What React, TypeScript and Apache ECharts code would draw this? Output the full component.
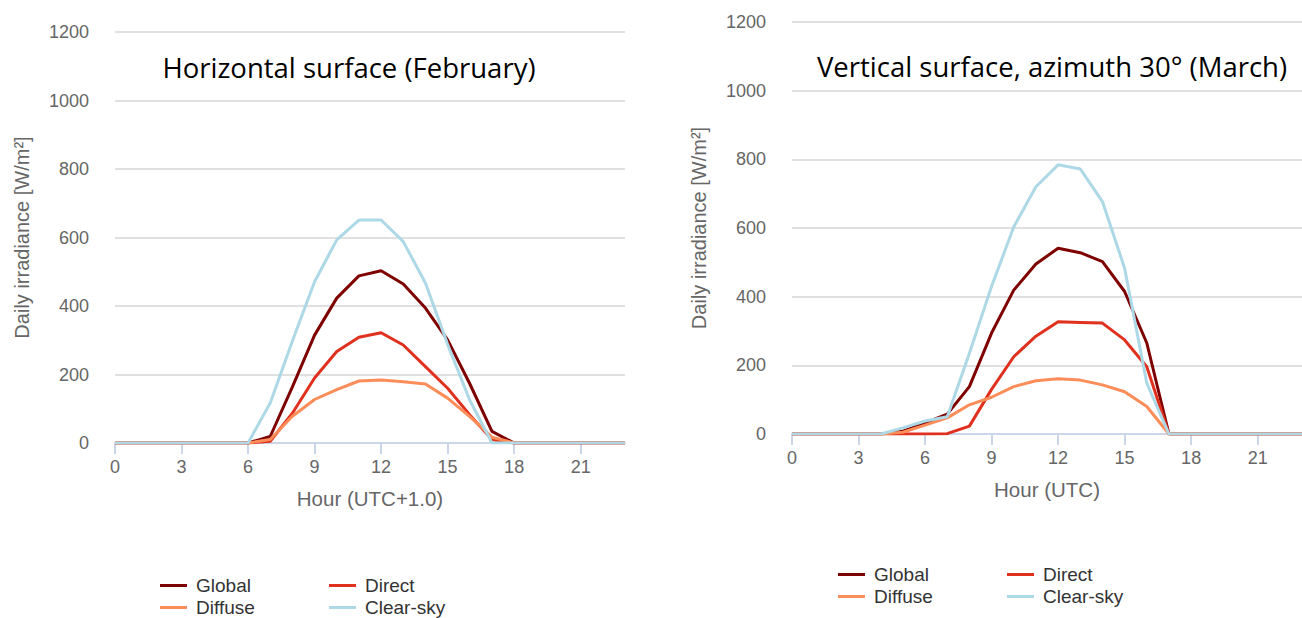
import React, { useEffect, useRef } from "react";
import * as echarts from "echarts";

const hours = ["0","1","2","3","4","5","6","7","8","9","10","11","12","13","14","15","16","17","18","19","20","21","22","23"];
const seriesNames = ["Global", "Direct", "Diffuse", "Clear-sky"];
const seriesColors = ["#7f0000", "#e0301e", "#fc8d59", "#add8e6"];

const leftTitle = "Horizontal surface (February)";
const rightTitle = "Vertical surface, azimuth 30° (March)";
const leftXName = "Hour (UTC+1.0)";
const rightXName = "Hour (UTC)";
const yName = "Daily irradiance [W/m²]";

// Horizontal surface (February)
const febGlobal = [0,0,0,0,0,0,0,19,164,315,423,488,503,464,394,301,173,34,0,0,0,0,0,0];
const febDirect = [0,0,0,0,0,0,0,5,87,190,267,309,322,286,223,160,82,10,0,0,0,0,0,0];
const febDiffuse = [0,0,0,0,0,0,0,10,78,127,156,181,184,179,172,131,77,17,0,0,0,0,0,0];
const febClearSky = [0,0,0,0,0,0,0,117,298,471,593,651,651,588,467,288,125,0,0,0,0,0,0,0];

// Vertical surface, azimuth 30° (March)
const marGlobal = [0,0,0,0,0,8,32,58,138,294,419,495,541,528,502,415,265,0,0,0,0,0,0,0];
const marDirect = [0,0,0,0,0,0,0,1,23,130,225,285,327,325,323,274,196,0,0,0,0,0,0,0];
const marDiffuse = [0,0,0,0,0,5,26,47,85,107,138,155,161,157,143,123,80,0,0,0,0,0,0,0];
const marClearSky = [0,0,0,0,0,18,38,50,235,430,603,720,784,772,677,483,148,0,0,0,0,0,0,0];

const leftData = [febGlobal, febDirect, febDiffuse, febClearSky];
const rightData = [marGlobal, marDirect, marDiffuse, marClearSky];

const AXIS_FONT = "'Liberation Sans', Arial, sans-serif";
const TITLE_FONT = "'Open Sans', Lato, sans-serif";

function makeXAxis(gridIndex: number, name: string) {
  return {
    gridIndex,
    type: "category",
    data: hours,
    boundaryGap: false,
    name,
    nameLocation: "middle",
    nameGap: 45,
    nameTextStyle: { fontSize: 20.5, color: "#666", fontFamily: AXIS_FONT },
    axisLine: { show: true, onZero: false, lineStyle: { color: "#ccd6eb", width: 2 } },
    axisTick: { show: true, interval: 2, length: 11, lineStyle: { color: "#ccd6eb", width: 2 } },
    axisLabel: { interval: 2, margin: 15, fontSize: 18, color: "#666", fontFamily: AXIS_FONT },
    splitLine: { show: false },
  };
}

function makeYAxis(gridIndex: number) {
  return {
    gridIndex,
    type: "value",
    min: 0,
    max: 1200,
    interval: 200,
    name: yName,
    nameLocation: "middle",
    nameGap: 83,
    nameRotate: 90,
    nameTextStyle: { fontSize: 20, color: "#666", fontFamily: AXIS_FONT },
    axisLine: { show: false },
    axisTick: { show: false },
    axisLabel: {
      margin: 26,
      fontSize: 18,
      color: "#666",
      fontFamily: AXIS_FONT,
      formatter: (v: number) => String(v),
    },
    splitLine: { show: true, lineStyle: { color: "#e0e0e0", width: 2 } },
  };
}

function makeLegend(names: string[], left: number, top: number) {
  return {
    data: names,
    orient: "vertical",
    left,
    top,
    padding: 0,
    itemGap: 3,
    icon: "rect",
    itemWidth: 27,
    itemHeight: 3,
    selectedMode: false,
    textStyle: { fontSize: 19, color: "#333", fontFamily: AXIS_FONT, padding: [0, 0, 0, 4] },
  };
}

export default function App() {
  const ref = useRef<HTMLDivElement>(null);

  useEffect(() => {
    if (!ref.current) return;
    const chart = echarts.init(ref.current, null, { renderer: "svg" });

    const series: any[] = [];
    [leftData, rightData].forEach((group, gi) => {
      group.forEach((vals, si) => {
        series.push({
          name: seriesNames[si],
          type: "line",
          xAxisIndex: gi,
          yAxisIndex: gi,
          data: vals,
          symbol: "none",
          lineStyle: { width: 3, color: seriesColors[si] },
          itemStyle: { color: seriesColors[si] },
          z: 2 + si,
        });
      });
    });

    chart.setOption({
      animation: false,
      backgroundColor: "#fff",
      grid: [
        { left: 115, top: 32, width: 510, height: 411 },
        { left: 792, top: 22, width: 510, height: 412 },
      ],
      xAxis: [makeXAxis(0, leftXName), makeXAxis(1, rightXName)],
      yAxis: [makeYAxis(0), makeYAxis(1)],
      legend: [
        makeLegend(["Global", "Diffuse"], 160, 576),
        makeLegend(["Direct", "Clear-sky"], 329, 576),
        makeLegend(["Global", "Diffuse"], 838, 565),
        makeLegend(["Direct", "Clear-sky"], 1007, 565),
      ],
      graphic: [
        {
          type: "text",
          x: 349,
          y: 67,
          style: {
            text: leftTitle,
            font: `27.5px ${TITLE_FONT}`,
            fill: "#000",
            textAlign: "center",
            textVerticalAlign: "middle",
          },
        },
        {
          type: "text",
          x: 1052,
          y: 66,
          style: {
            text: rightTitle,
            font: `27.5px ${TITLE_FONT}`,
            fill: "#000",
            textAlign: "center",
            textVerticalAlign: "middle",
          },
        },
      ],
      series,
    });

    return () => chart.dispose();
  }, []);

  return (
    <div
      ref={ref}
      style={{ position: "fixed", left: 0, top: 0, width: 1302, height: 618, background: "#fff" }}
    />
  );
}
